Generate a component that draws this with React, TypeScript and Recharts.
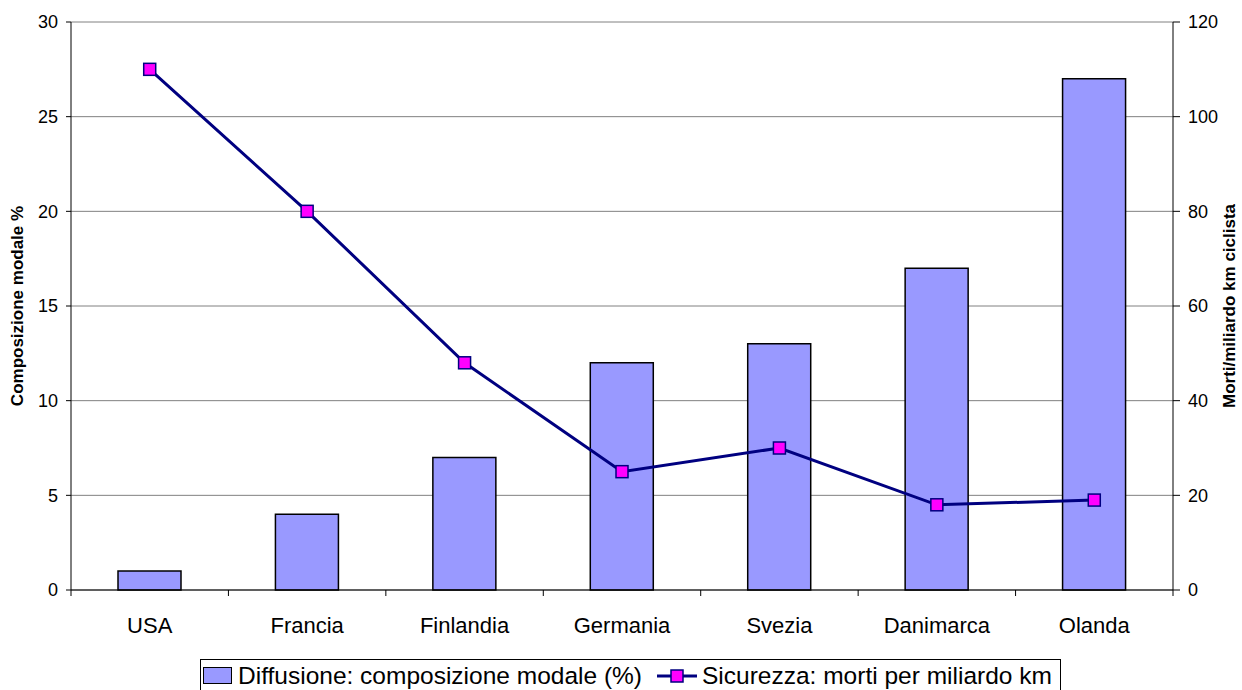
import React from 'react';
import {
  ComposedChart,
  Bar,
  Line,
  XAxis,
  YAxis,
  CartesianGrid,
  Legend,
} from 'recharts';

const countries = ['USA', 'Francia', 'Finlandia', 'Germania', 'Svezia', 'Danimarca', 'Olanda'];
const modalShare = [1, 4, 7, 12, 13, 17, 27];
const deathsPerBillionKm = [110, 80, 48, 25, 30, 18, 19];
const leftTicks = [0, 5, 10, 15, 20, 25, 30];
const rightTicks = [0, 20, 40, 60, 80, 100, 120];

const data = countries.map((name, i) => ({
  name,
  share: modalShare[i],
  deaths: deathsPerBillionKm[i],
}));

const W = 1242;
const H = 690;
const LEFT_W = 71;
const RIGHT_W = 69;
const HALF_BAND = (W - LEFT_W - RIGHT_W) / countries.length / 2;
const FONT = '"Liberation Sans", Arial, sans-serif';
const NAVY = '#000080';
const BAR_FILL = '#9999FF';

function CountryTick(props: any) {
  const { x, y, payload, index } = props;
  const axisY = y - 8;
  return (
    <g>
      {index === 0 && (
        <line x1={x - HALF_BAND} x2={x - HALF_BAND} y1={axisY} y2={axisY + 6} stroke="#000" />
      )}
      <line x1={x + HALF_BAND} x2={x + HALF_BAND} y1={axisY} y2={axisY + 6} stroke="#000" />
      <text x={x} y={axisY + 43} textAnchor="middle" fontSize={22} fill="#000" fontFamily={FONT}>
        {payload.value}
      </text>
    </g>
  );
}

function SquareDot(props: any) {
  const { cx, cy, index } = props;
  return (
    <rect
      key={`dot-${index}`}
      x={cx - 6}
      y={cy - 6}
      width={12}
      height={12}
      fill="#FF00FF"
      stroke={NAVY}
      strokeWidth={1.5}
    />
  );
}

function AxisTitle({ viewBox, dx, text }: any) {
  const cx = viewBox.x + dx;
  const cy = viewBox.y + viewBox.height / 2;
  return (
    <text
      x={cx}
      y={cy}
      transform={`rotate(-90 ${cx} ${cy})`}
      textAnchor="middle"
      dominantBaseline="middle"
      fontSize={17}
      fontWeight="bold"
      fontFamily={FONT}
      fill="#000"
    >
      {text}
    </text>
  );
}

function ChartLegend() {
  return (
    <div
      style={{
        display: 'flex',
        alignItems: 'center',
        border: '1px solid #000',
        background: '#fff',
        fontFamily: FONT,
        fontSize: 24.5,
        color: '#000',
        height: 31,
        padding: '0 8px 0 2px',
        whiteSpace: 'nowrap',
      }}
    >
      <span
        style={{
          display: 'inline-block',
          width: 27,
          height: 15,
          background: BAR_FILL,
          border: '1.5px solid #000',
          marginRight: 6,
        }}
      />
      <span>Diffusione: composizione modale (%)</span>
      <svg width={40} height={16} style={{ margin: '0 5px 0 15px' }}>
        <line x1={0} x2={40} y1={8} y2={8} stroke={NAVY} strokeWidth={3} />
        <rect x={14} y={2} width={12} height={12} fill="#FF00FF" stroke={NAVY} strokeWidth={1.5} />
      </svg>
      <span>Sicurezza: morti per miliardo km</span>
    </div>
  );
}

export default function App() {
  return (
    <div style={{ position: 'absolute', left: 0, top: 0, width: W, height: H, background: '#fff' }}>
      <ComposedChart
        width={W}
        height={H}
        data={data}
        margin={{ top: 22, right: 0, left: 0, bottom: 27 }}
        style={{ fontFamily: FONT }}
        barCategoryGap={0}
      >
        <CartesianGrid yAxisId="left" vertical={false} stroke="#808080" strokeWidth={1} />
        <XAxis
          dataKey="name"
          height={40}
          tick={<CountryTick />}
          tickLine={false}
          axisLine={{ stroke: '#000' }}
          interval={0}
        />
        <YAxis
          yAxisId="left"
          width={LEFT_W}
          domain={[0, 30]}
          ticks={leftTicks}
          tickSize={5}
          tickMargin={8}
          tick={{ fontSize: 18, fill: '#000', fontFamily: FONT }}
          tickLine={{ stroke: '#000' }}
          axisLine={{ stroke: '#000' }}
          label={{ content: (p: any) => <AxisTitle {...p} dx={19} text="Composizione modale %" /> }}
        />
        <YAxis
          yAxisId="right"
          orientation="right"
          width={RIGHT_W}
          domain={[0, 120]}
          ticks={rightTicks}
          tickSize={7}
          tickMargin={8}
          tick={{ fontSize: 18, fill: '#000', fontFamily: FONT }}
          tickLine={{ stroke: '#000' }}
          axisLine={{ stroke: '#000' }}
          label={{ content: (p: any) => <AxisTitle {...p} dx={58} text="Morti/miliardo km ciclista" /> }}
        />
        <Legend
          verticalAlign="bottom"
          content={() => <ChartLegend />}
          wrapperStyle={{ left: 200, top: 659, width: 'auto' }}
        />
        <Bar
          yAxisId="left"
          dataKey="share"
          name="Diffusione: composizione modale (%)"
          fill={BAR_FILL}
          stroke="#000"
          strokeWidth={1.5}
          barSize={63}
          isAnimationActive={false}
        />
        <Line
          yAxisId="right"
          dataKey="deaths"
          name="Sicurezza: morti per miliardo km"
          type="linear"
          stroke={NAVY}
          strokeWidth={3}
          dot={SquareDot}
          activeDot={false}
          isAnimationActive={false}
        />
      </ComposedChart>
    </div>
  );
}
